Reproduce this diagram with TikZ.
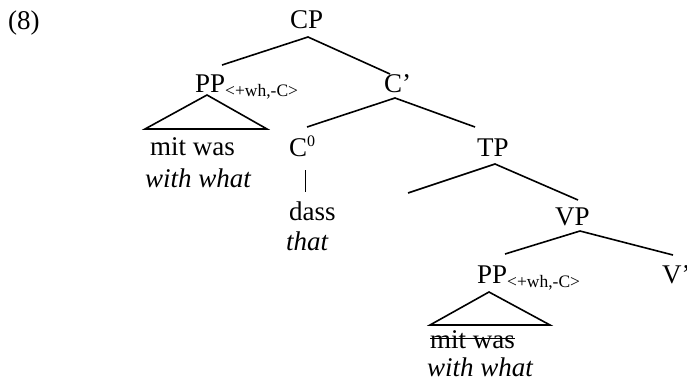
\documentclass[tikz,border=0pt]{standalone}
\usepackage{fontspec}
\setmainfont{Liberation Serif}
\begin{document}
\begin{tikzpicture}[x=1pt,y=-1pt,
  lbl/.style={anchor=base west,inner sep=0pt,font=\fontsize{27}{30}\selectfont},
  branch/.style={line width=1.6pt}]
\useasboundingbox (0,0) rectangle (687,381);
\newcommand{\feat}{\raisebox{-4pt}{\fontsize{17.5}{19}\selectfont<+wh,-C>}}
% example number
\node[lbl] (num) at (8,29) {(8)};
% labels
\node[lbl] (cp) at (290,28) {CP};
\node[lbl] (pp) at (195,92) {PP\feat};
\node[lbl] (cbar) at (384,92) {C’};
\node[lbl] (c0) at (289,156) {C\raisebox{10pt}{\fontsize{16}{18}\selectfont 0}};
\node[lbl] (tp) at (477,156) {TP};
\node[lbl] (mw1) at (150,155) {mit was};
\node[lbl] (ww1) at (145,187) {\itshape with what};
\node[lbl] (dass) at (289,220) {dass};
\node[lbl] (that) at (286,250) {\itshape that};
\node[lbl] (vp) at (555,225) {VP};
\node[lbl] (pp2) at (477,283) {PP\feat};
\node[lbl] (v) at (662,283) {V’};
\node[lbl] (mw2) at (430,348) {mit was};
\node[lbl] (ww2) at (427,376) {\itshape with what};
% strike-through of the copy
\draw[line width=1.3pt] ([yshift=9.5pt]mw2.base west) -- ([yshift=9.5pt]mw2.base east);
% attachment points
\coordinate (cpB) at (308,37);
\coordinate (ppT) at (222,65);
\coordinate (cbarT) at (390,74);
\coordinate (ppB) at (207,95);
\coordinate (t1L) at (145,129);
\coordinate (t1R) at (267,129);
\coordinate (cbarB) at (395,98);
\coordinate (c0T) at (307,127);
\coordinate (tpT) at (475,127);
\coordinate (c0B) at (305,170);
\coordinate (dassT) at (305,192);
\coordinate (tpB) at (495,164);
\coordinate (tpL) at (408,193);
\coordinate (vpT) at (578,200);
\coordinate (vpB) at (580,231);
\coordinate (pp2T) at (505,254);
\coordinate (vT) at (673,255);
\coordinate (pp2B) at (489,292);
\coordinate (t2L) at (430,325);
\coordinate (t2R) at (550,325);
% branches
\draw[branch] (ppT) -- (cpB) -- (cbarT);
\draw[branch] (c0T) -- (cbarB) -- (tpT);
\draw[branch] (tpL) -- (tpB) -- (vpT);
\draw[branch] (pp2T) -- (vpB) -- (vT);
\draw[line width=1pt] (c0B) -- (dassT);
% triangles
\draw[branch] (ppB) -- (t1L) -- (t1R) -- cycle;
\draw[branch] (pp2B) -- (t2L) -- (t2R) -- cycle;
\end{tikzpicture}
\end{document}
